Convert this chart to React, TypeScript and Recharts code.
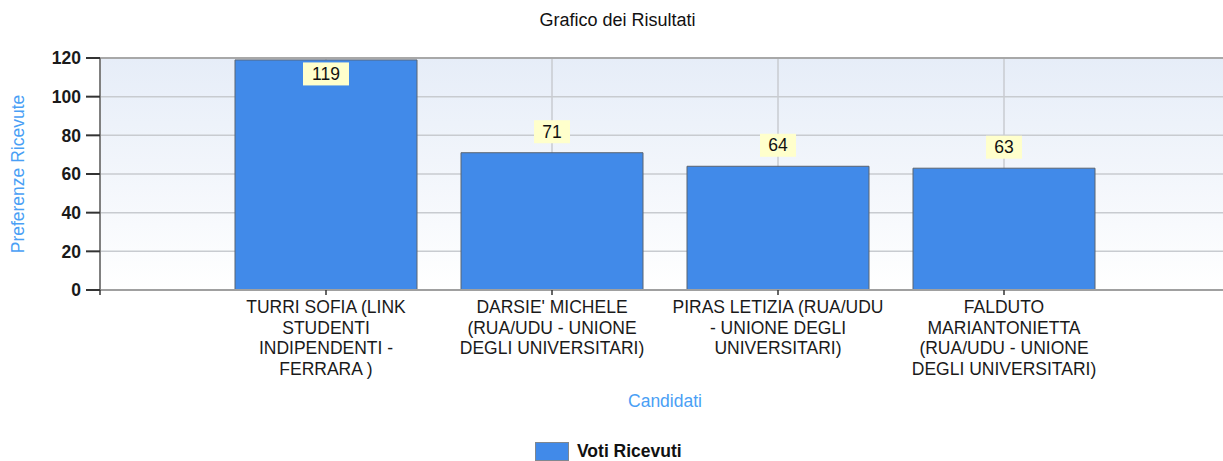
import { BarChart, Bar, XAxis, YAxis, CartesianGrid, LabelList, Label, ReferenceLine } from "recharts";

const candidates = [
  "TURRI SOFIA (LINK\nSTUDENTI\nINDIPENDENTI -\nFERRARA )",
  "DARSIE' MICHELE\n(RUA/UDU - UNIONE\nDEGLI UNIVERSITARI)",
  "PIRAS LETIZIA (RUA/UDU\n- UNIONE DEGLI\nUNIVERSITARI)",
  "FALDUTO\nMARIANTONIETTA\n(RUA/UDU - UNIONE\nDEGLI UNIVERSITARI)",
];
const votes = [119, 71, 64, 63];
const yTicks = [0, 20, 40, 60, 80, 100, 120];
const xTicks = [0, 1, 2, 3, 4, 5];

const data = candidates.map((name, i) => ({ pos: i + 1, name, votes: votes[i] }));

const FONT = "'Liberation Sans', Arial, sans-serif";
const BLUE = "#418ae9";
const LABEL_BLUE = "#4a9ff5";

function CandidateTick(props: any) {
  const { x, y, payload } = props;
  const name = candidates[payload.value - 1];
  if (!name) return null;
  const lines = name.split("\n");
  return (
    <text x={x} y={y} textAnchor="middle" fontFamily={FONT} fontSize={17.5} fill="#1a1a1a">
      {lines.map((line, i) => (
        <tspan key={i} x={x} dy={i === 0 ? 16 : 20.7}>
          {line}
        </tspan>
      ))}
    </text>
  );
}

function ValueLabel(props: any) {
  const { x, y, width, value } = props;
  const cx = x + width / 2;
  const w = String(value).length * 10 + 16;
  const h = 23;
  // no room above the plot top: put the box inside the bar
  const cy = y - 33 < 58 ? y + 14 : y - 21;
  return (
    <g>
      <rect x={cx - w / 2} y={cy - h / 2} width={w} height={h} fill="#ffffcc" />
      <text x={cx} y={cy + 6} textAnchor="middle" fontFamily={FONT} fontSize={17.5} fill="#111">
        {value}
      </text>
    </g>
  );
}

function YTitle(props: any) {
  const { viewBox } = props;
  const x = viewBox.x + 18;
  const y = viewBox.y + viewBox.height / 2;
  return (
    <text
      x={x}
      y={y}
      transform={`rotate(-90 ${x} ${y})`}
      textAnchor="middle"
      dominantBaseline="central"
      fontFamily={FONT}
      fontSize={17.5}
      fill={LABEL_BLUE}
    >
      Preferenze Ricevute
    </text>
  );
}

export default function App() {
  return (
    <div
      style={{
        position: "absolute",
        left: 0,
        top: 0,
        width: 1223,
        height: 461,
        overflow: "hidden",
        background: "#fff",
        fontFamily: FONT,
      }}
    >
      <div
        style={{
          position: "absolute",
          left: 0,
          top: 10,
          width: 1235,
          textAlign: "center",
          fontSize: 18,
          lineHeight: "20px",
          color: "#111",
        }}
      >
        Grafico dei Risultati
      </div>
      <BarChart
        width={1240}
        height={461}
        data={data}
        margin={{ top: 58, right: 10, left: 0, bottom: 71 }}
      >
        <defs>
          <linearGradient id="plotBg" x1="0" y1="0" x2="0" y2="1">
            <stop offset="0%" stopColor="#e6edf8" />
            <stop offset="100%" stopColor="#ffffff" />
          </linearGradient>
        </defs>
        <CartesianGrid fill="url(#plotBg)" stroke="#c8cbd0" strokeWidth={1.5} />
        <XAxis
          type="number"
          dataKey="pos"
          domain={[0, 5]}
          ticks={xTicks}
          interval={0}
          height={100}
          tick={<CandidateTick />}
          tickSize={5}
          tickLine={{ stroke: "#333", strokeWidth: 1.5 }}
          axisLine={{ stroke: "#a0a0a0", strokeWidth: 2 }}
        >
          <Label
            value="Candidati"
            position="bottom"
            offset={5}
            style={{ fontFamily: FONT, fontSize: 17.5, fill: LABEL_BLUE }}
          />
        </XAxis>
        <YAxis
          domain={[0, 120]}
          ticks={yTicks}
          width={100}
          tickSize={14}
          tickMargin={5}
          tick={{ fontFamily: FONT, fontSize: 17.5, fontWeight: "bold", fill: "#1a1a1a" }}
          tickLine={{ stroke: "#333", strokeWidth: 2 }}
          axisLine={{ stroke: "#808080", strokeWidth: 2 }}
        >
          <Label content={<YTitle />} />
        </YAxis>
        <ReferenceLine y={120} stroke="#a8a8a8" strokeWidth={2} />
        <Bar
          dataKey="votes"
          fill={BLUE}
          stroke="#5a6470"
          strokeWidth={1}
          barSize={182}
          isAnimationActive={false}
        >
          <LabelList dataKey="votes" content={<ValueLabel />} />
        </Bar>
      </BarChart>
      <div
        style={{
          position: "absolute",
          left: 535,
          top: 442,
          display: "flex",
          alignItems: "center",
          height: 19,
        }}
      >
        <div
          style={{
            width: 32,
            height: 17,
            background: BLUE,
            border: "1px solid #7f8790",
          }}
        />
        <span style={{ marginLeft: 8, fontSize: 17.5, fontWeight: "bold", color: "#111" }}>
          Voti Ricevuti
        </span>
      </div>
    </div>
  );
}
